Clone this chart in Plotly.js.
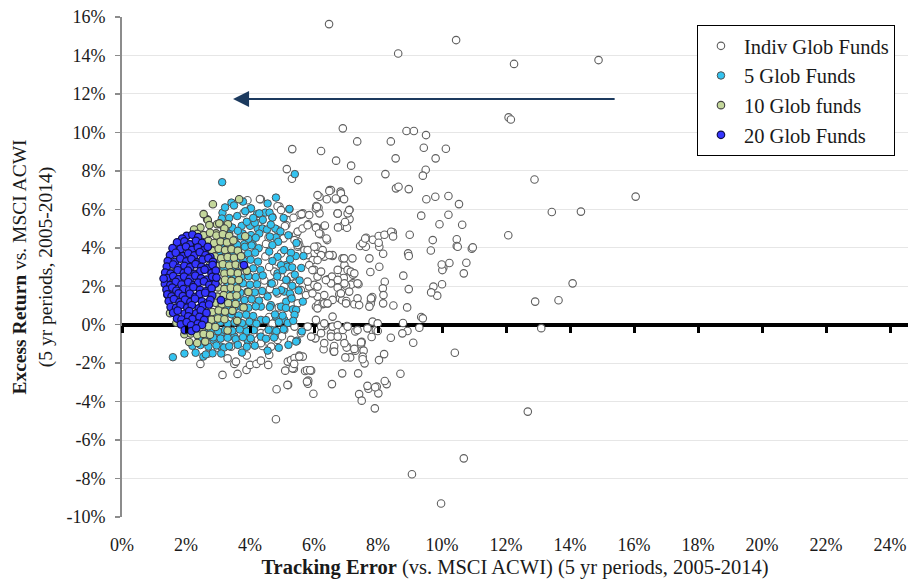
<!DOCTYPE html>
<html>
<head>
<meta charset="utf-8">
<script src="https://cdn.plot.ly/plotly-3.0.1.min.js"></script>
<style>html,body{margin:0;padding:0;background:#fff;}#chart{width:911px;height:584px;}</style>
</head>
<body>
<div id="chart"></div>
<script>
// Series names
const seriesNames = ["Indiv Glob Funds", "5 Glob Funds", "10 Glob funds", "20 Glob Funds"];

// Tick values (percent)
const xTicks = [0, 2, 4, 6, 8, 10, 12, 14, 16, 18, 20, 22, 24];
const yTicks = [-10, -8, -6, -4, -2, 0, 2, 4, 6, 8, 10, 12, 14, 16];
const xTickText = ["0%", "2%", "4%", "6%", "8%", "10%", "12%", "14%", "16%", "18%", "20%", "22%", "24%"];
const yTickText = ["-10%", "-8%", "-6%", "-4%", "-2%", "0%", "2%", "4%", "6%", "8%", "10%", "12%", "14%", "16%"];

// [tracking error %, excess return %] pairs
const indivFunds = [
[6.47,15.63],[8.63,14.10],[10.44,14.80],[12.25,13.56],[14.89,13.76],[12.08,10.78],[12.15,10.67],[16.05,6.66],[13.43,5.86],[14.34,5.88],[12.89,7.55],[12.07,4.65],[14.08,2.15],[12.91,1.20],[13.64,1.27],[13.10,-0.18],[12.68,-4.52],[10.40,-1.46],[10.68,-6.95],[9.06,-7.78],[9.97,-9.30],
[6.90,10.21],[8.89,10.07],[9.12,10.07],[9.50,9.86],[5.32,9.13],[6.22,9.03],[7.35,9.53],[8.40,9.53],[9.43,9.20],[10.12,9.15],[8.55,8.65],[9.80,8.65],[6.69,8.53],[7.16,8.27],[5.15,8.09],[5.31,7.59],[9.49,8.06],[9.40,7.75],[8.23,7.83],[7.38,7.52],[8.56,7.09],[8.64,7.17],[8.96,7.05],[6.49,7.00],[6.83,6.92],[6.83,6.62],[6.17,6.65],[6.69,6.52],[9.51,6.52],[9.79,6.65],[10.20,6.69],[10.53,6.27],[6.07,6.17],[6.14,6.08],[7.11,5.98],[6.74,5.79],[6.17,5.79],[5.62,5.75],[9.35,5.67],[10.20,5.72],[5.82,5.22],[6.07,5.06],[6.32,5.13],[6.91,5.15],[7.03,5.04],[6.75,5.06],[7.11,5.49],[6.97,5.34],[9.92,5.22],[10.63,5.20],[5.05,4.49],[5.44,4.68],[5.51,4.31],[5.49,4.05],[6.20,4.71],[6.41,4.40],[6.08,4.05],[6.12,3.88],
[7.52,4.18],[7.44,4.09],[7.63,4.52],[7.84,4.42],[8.02,4.61],[8.20,4.68],[8.46,4.80],[8.41,4.83],[8.47,4.59],[8.04,4.05],[8.02,4.26],[8.16,3.69],[8.99,4.68],[8.94,3.71],[8.96,3.57],[7.73,3.45],[9.71,4.40],[9.65,3.86],[10.46,4.44],[10.46,4.09],[10.49,4.05],[10.93,3.95],[10.96,4.02],[10.76,3.22],[10.23,3.21],[10.04,2.96],[10.01,2.84],[10.68,2.67],[10.00,2.10],[9.73,1.98],[9.85,1.51],[9.66,1.68],[9.99,3.13],[8.79,2.55],[8.96,1.85],[8.91,0.90],[8.21,2.23],[8.15,1.89],[8.17,1.54],[8.16,1.11],[8.48,1.00],[7.78,1.23],[7.80,1.33],[7.77,1.09],[7.82,1.44],[7.76,2.74],[7.39,2.10],
[7.22,2.60],[7.01,2.77],[6.92,2.76],[7.21,2.15],[7.15,2.08],[7.00,2.03],[6.93,2.43],[6.74,1.92],[6.79,1.58],[6.81,1.37],[6.88,1.27],[7.01,1.23],[7.26,1.06],[6.43,2.36],[6.56,2.50],[6.58,3.57],[6.32,3.66],[6.06,0.93],[6.14,1.06],[6.27,1.07],[6.43,1.11],
[7.03,-0.07],[7.83,0.16],[8.78,0.09],[9.35,0.40],[9.40,0.33],[9.29,-0.16],[8.92,-0.33],[8.76,-0.45],[9.10,-0.94],[8.40,-0.68],[7.84,-0.33],[7.93,-0.28],[7.80,-0.64],[7.99,-0.33],[7.29,-0.35],[7.49,-0.89],[7.47,-1.02],[7.55,-1.35],[7.52,-1.66],[7.58,-2.01],[6.90,-0.64],[7.04,-1.15],[7.13,-1.70],[6.98,-1.70],[7.29,-1.35],[8.19,-1.53],[8.03,-1.84],[6.32,-0.05],[6.22,-0.10],[6.53,-0.45],[6.04,-0.69],[6.30,-1.28],[6.62,-1.23],[6.62,-1.40],[6.88,-2.53],[6.56,-3.09],[5.82,-2.91],[5.81,-3.07],[5.91,-2.39],[5.72,-2.41],[5.98,-3.59],[5.19,-3.14],[5.37,-2.29],[5.10,-2.39],[5.18,-1.92],[5.28,-1.84],[5.39,-1.73],[5.54,-1.61],[5.65,-1.66],[7.41,-3.61],[7.49,-3.95],[7.70,-3.33],[7.96,-3.22],[8.01,-3.57],[8.27,-3.09],[8.21,-2.93],[7.90,-4.35],[8.70,-2.55],
[2.45,-2.04],[3.14,-2.61],[3.61,-2.56],[3.89,-2.35],[3.51,-2.04],[3.56,-1.92],[3.30,-1.75],[4.00,-2.09],[4.20,-2.04],[4.34,-1.87],[4.57,-2.09],[4.60,-1.57],[4.39,-1.11],[4.83,-3.36],[5.17,-3.13],[4.81,-4.92],[5.33,-2.27],[5.38,-2.04],[5.54,-1.66],[5.78,-2.37],[5.88,-2.37],[5.78,-2.96],[6.04,-0.71],[6.61,-1.31],[6.63,-1.11],[7.02,-1.19],[7.26,-1.26],[7.47,-0.92],[7.52,-1.80],[7.38,-2.53],[7.67,-3.18],[7.91,-3.25],
[5.80,-0.10],[6.06,0.25],[6.32,0.07],[6.58,-0.10],[6.90,-0.27],[6.22,-0.44],[6.53,-0.62],[5.39,-0.10],[5.07,-0.27],[4.66,-0.10],[4.34,-0.44],[4.13,-0.10],[3.87,-0.36],[3.51,-0.62],[3.41,-1.14],[3.72,-0.96],[4.03,-0.79],[4.34,-0.96],[4.66,-1.14],[4.86,-0.79],[5.28,-0.79],[5.59,-0.44],[5.91,-0.62],[6.32,-0.96],[6.63,-1.40],[6.95,-0.96],[6.74,-0.62],
[4.34,6.52],[4.92,6.14],[5.23,6.00],[5.65,5.79],[6.11,6.74],[6.53,7.00],[6.84,6.83],[6.40,6.52],[6.74,5.79],[7.05,5.79],[6.06,6.05],[5.85,5.70],[5.54,5.70],[5.18,5.44],[5.13,5.18],[4.86,4.92],[4.24,5.27],[5.49,4.84],[5.39,4.40],[5.54,4.14],[5.70,3.88],[5.80,3.62],[5.96,3.36],
[6.11,4.06],[6.27,3.88],[6.32,3.54],[6.58,3.62],[6.89,3.45],[6.95,3.10],[6.74,2.85],[7.05,2.85],[6.01,2.85],[6.11,2.50],[5.85,1.98],[6.01,2.07],[6.11,1.46],[6.32,1.11],[6.58,1.29],[6.84,1.63],[7.00,1.11],[6.95,2.15],[6.74,2.33],[6.53,2.15],
[4.97,3.71],[4.86,3.27],[5.07,3.01],[4.76,2.76],[4.97,2.50],[5.28,2.50],[5.43,2.15],[5.07,1.98],[4.86,1.63],[5.28,1.46],[5.59,1.80],[5.75,1.54],[5.49,1.11],[5.38,0.76],[5.49,4.14],[5.80,3.88],[6.01,4.05],[6.22,3.62],[6.48,3.62],[6.11,3.36],[5.85,3.10],[5.95,2.84],[6.22,2.76],[6.37,2.32],[6.11,1.98],[5.80,2.24],[5.95,1.63],[6.32,1.54],[6.42,1.11],[6.11,0.85],[6.58,0.42],[6.74,-0.02],[7.05,-0.10],[7.36,-0.28],[7.67,-0.19],[7.99,0.07],[6.94,3.45],[7.20,3.45],[7.15,2.76],[7.26,2.67],[7.36,2.15],[7.10,1.72],[7.36,1.37],[7.78,1.37],[7.73,0.94],[7.41,1.02],[8.04,3.01],[7.62,4.05],[7.52,4.23],
[3.92,6.47],[4.31,6.53],[4.86,6.16],[4.97,5.96],[5.36,5.56],[5.61,5.75],[5.09,5.12],[5.64,5.00],[5.80,5.17],[6.06,5.04],[6.34,5.16],[6.16,4.74],[6.39,4.48],[6.09,6.13],[6.48,6.95],[6.68,6.56],[6.94,6.53],[6.74,5.78],[7.10,5.96],[7.60,4.48],
[3.00,-1.20],[3.50,0.50],[4.20,1.20],[4.60,3.00],[4.50,4.20],[3.80,5.80],[4.10,-0.50],[4.60,0.40],[4.90,0.90],[5.00,-0.60],[2.70,-1.50],[3.90,-1.60],[4.70,5.60],
[4.45,2.30],[4.62,1.85],[4.48,3.55],[4.70,0.05],[4.52,-0.40],[4.40,1.60],[4.75,2.20],[4.58,4.55]
];

const fiveFunds = [
[5.40,7.83],[3.13,7.41],[4.81,6.61],[5.23,6.02],[3.42,6.35],[3.14,5.82],[4.01,6.04],[4.22,5.75],[4.48,5.83],[4.61,5.83],[4.70,5.57],[4.79,5.00],[4.81,4.54],[4.88,4.31],[3.74,5.14],[4.00,5.14],[4.24,5.00],[4.39,5.00],[4.53,4.95],[4.29,5.79],[4.03,6.05],[5.43,3.57],[5.67,3.57],[5.15,2.32],[5.34,0.80],[5.47,-0.83],[2.54,-1.66],[2.83,-1.49],[3.09,-1.14],[3.19,-1.19],[1.59,-1.69],
[3.35,4.74],[3.42,4.40],[3.25,4.40],[4.08,4.19],[3.82,4.19],[3.56,4.22],[3.77,4.74],[4.03,4.66],[4.29,4.74],[3.12,5.52],[3.07,5.21],
[5.07,3.88],[5.13,3.10],[5.13,2.33],[5.07,1.72],[5.13,1.20],[5.44,0.77],[5.39,0.51],[5.07,0.25],[5.44,-0.88],[4.66,-0.27],[4.34,0.25],
[4.86,3.53],[4.97,3.10],[4.86,2.67],[5.17,3.01],[4.65,2.15],[4.97,1.80],[4.55,1.46],[4.34,0.94],[4.65,1.02],[4.97,0.94],[4.81,0.42],[4.50,0.24],[4.13,0.07],[3.82,-0.02],[2.86,-0.79],[3.09,-0.45],[3.51,-0.62],[3.92,-0.79],[4.34,-0.62],
[3.05,4.48],[3.28,4.55],[3.50,4.42],[3.71,4.60],[3.95,4.47],[4.18,4.52],[4.62,4.58],
[3.12,4.10],[3.36,4.02],[3.60,4.15],[3.84,4.05],[4.05,4.12],[4.27,3.98],[4.70,4.14],
[3.02,3.72],[3.25,3.66],[3.48,3.78],[3.70,3.62],[3.94,3.70],[4.16,3.75],[4.60,3.80],[5.28,3.74],
[3.10,3.30],[3.33,3.35],[3.57,3.26],[3.80,3.33],[4.02,3.38],[4.25,3.28],[4.70,3.31],[5.25,3.40],
[3.18,2.92],[3.42,2.86],[3.65,2.95],[3.88,2.88],[4.10,2.93],[4.33,2.85],[5.02,2.84],[5.32,2.98],
[3.28,2.50],[3.50,2.55],[3.73,2.46],[3.95,2.52],[4.18,2.48],[4.40,2.56],[4.85,2.51],[5.40,2.60],
[3.30,2.12],[3.55,2.06],[3.78,2.15],[4.00,2.08],[4.22,2.10],[4.68,2.14],[5.32,2.02],
[3.25,1.70],[3.48,1.74],[3.70,1.66],[3.92,1.72],[4.15,1.68],[4.38,1.75],[4.82,1.71],[5.25,1.62],[5.52,1.78],
[3.15,1.30],[3.38,1.26],[3.60,1.34],[3.83,1.28],[4.05,1.32],[4.28,1.25],[5.30,1.36],
[3.05,0.90],[3.28,0.94],[3.50,0.86],[3.73,0.92],[3.95,0.88],[4.18,0.95],[4.62,0.91],[5.12,0.87],
[2.98,0.50],[3.20,0.46],[3.42,0.54],[3.65,0.48],[3.88,0.52],[4.10,0.45],[4.78,0.53],[5.02,0.47],
[2.85,0.10],[3.08,0.14],[3.30,0.06],[3.52,0.12],[3.75,0.08],[3.98,0.15],[4.20,0.05],[4.90,0.13],[5.18,0.09],
[2.55,-0.30],[2.78,-0.26],[3.00,-0.34],[3.22,-0.28],[3.45,-0.32],[3.68,-0.25],[3.90,-0.35],[4.12,-0.29],[4.58,-0.27],[4.82,-0.33],[5.05,-0.24],
[2.40,-0.70],[2.62,-0.74],[2.85,-0.66],[3.08,-0.72],[3.30,-0.68],[3.55,-0.75],[3.78,-0.65],[4.02,-0.71],[4.50,-0.73],[4.75,-0.67],
[2.20,-1.10],[2.45,-1.06],[2.70,-1.14],[2.95,-1.08],[3.35,-1.12],[3.62,-1.05],[3.90,-1.15],[4.15,-1.09],
[1.95,-1.50],[2.30,-1.46],[2.62,-1.55],
[3.20,4.95],[3.45,5.05],[3.62,4.88],[3.90,5.35],[4.15,5.30],[4.40,5.45],[4.65,5.20],[4.95,4.85],[3.35,5.55],[3.60,5.65],[3.85,5.90],[4.10,5.55],[3.22,6.10],[3.50,6.20],[3.78,6.40],[4.55,6.30],[5.05,5.55],[5.20,4.65],[5.45,4.25],[5.60,2.95],[5.55,2.30],[5.65,1.20],[5.35,0.20],[5.62,-0.35],[5.20,-1.05],[4.90,-1.20],[4.55,-1.35],[3.75,-1.45],[3.10,-1.50]
];

const tenFunds = [
[2.84,6.26],[3.66,6.52],[2.66,5.48],[2.97,5.22],[3.31,5.22],[2.68,5.44],[3.04,5.27],[2.73,5.18],[2.94,4.75],[2.45,5.05],[2.25,4.95],[3.20,5.00],[2.55,5.75],
[2.35,4.72],[2.55,4.66],[2.75,4.78],[2.95,4.64],[3.15,4.70],[3.35,4.62],
[2.50,4.30],[2.70,4.36],[2.88,4.25],[3.08,4.32],[3.28,4.28],[3.48,4.38],
[2.62,3.90],[2.82,3.84],[3.02,3.95],[3.22,3.88],[3.42,3.92],[3.62,3.85],
[2.70,3.50],[2.90,3.55],[3.10,3.46],[3.30,3.52],[3.50,3.48],[3.72,3.56],
[2.75,3.10],[2.95,3.06],[3.15,3.14],[3.35,3.08],[3.55,3.12],[3.75,3.05],
[2.80,2.70],[3.00,2.74],[3.20,2.66],[3.40,2.72],[3.62,2.68],
[2.82,2.30],[3.02,2.26],[3.22,2.34],[3.42,2.28],[3.65,2.32],
[2.80,1.90],[3.00,1.94],[3.20,1.86],[3.40,1.92],[3.60,1.88],
[2.78,1.50],[2.98,1.46],[3.18,1.54],[3.38,1.48],[3.58,1.52],
[2.72,1.10],[2.92,1.14],[3.12,1.06],[3.32,1.12],[3.55,1.08],
[2.62,0.70],[2.82,0.66],[3.02,0.74],[3.22,0.68],[3.45,0.72],
[2.40,0.30],[2.60,0.34],[2.80,0.26],[3.00,0.32],[3.20,0.28],
[2.10,-0.10],[2.30,-0.06],[2.50,-0.14],[2.70,-0.08],[2.92,-0.12],
[1.95,-0.50],[2.15,-0.46],[2.35,-0.54],[2.55,-0.48],[2.75,-0.52],
[2.10,-0.90],[2.35,-0.95],[2.60,-0.88],
[1.48,1.28],[1.42,1.54],[1.53,3.02],[1.63,3.71],[1.45,2.20],[1.50,0.60],[1.75,4.20],[1.70,0.10],
[3.85,4.60],[3.90,2.80],[3.95,1.70],[3.80,0.90],[3.60,0.20],[3.30,-0.30]
];

const twentyFunds = [
[2.02,4.62],[2.20,4.68],[2.38,4.55],[1.88,4.48],
[1.72,4.28],[1.95,4.33],[2.12,4.18],[2.31,4.36],[2.50,4.25],
[1.58,3.98],[1.83,3.94],[2.00,4.06],[2.19,3.89],[2.37,4.02],[2.55,3.86],[2.68,4.05],
[1.50,3.62],[1.68,3.74],[1.91,3.57],[2.07,3.71],[2.26,3.60],[2.43,3.77],[2.61,3.61],[2.76,3.52],
[1.43,3.31],[1.65,3.26],[1.82,3.44],[2.01,3.29],[2.17,3.41],[2.35,3.24],[2.52,3.38],[2.70,3.46],[2.84,3.27],
[1.40,3.02],[1.60,3.13],[1.77,2.96],[1.95,3.06],[2.13,2.99],[2.30,3.15],[2.48,3.01],[2.66,2.93],[2.83,3.11],
[1.35,2.71],[1.52,2.66],[1.74,2.83],[1.93,2.69],[2.06,2.81],[2.27,2.64],[2.45,2.79],[2.58,2.86],[2.80,2.68],[2.93,2.81],
[1.41,2.42],[1.60,2.53],[1.77,2.37],[1.94,2.50],[2.12,2.39],[2.29,2.55],[2.47,2.41],[2.65,2.34],[2.82,2.49],
[1.34,2.12],[1.51,2.06],[1.68,2.23],[1.86,2.09],[2.07,2.21],[2.24,2.05],[2.38,2.19],[2.56,2.25],[2.73,2.07],[2.92,2.14],
[1.39,1.82],[1.57,1.93],[1.70,1.77],[1.92,1.85],[2.10,1.79],[2.23,1.95],[2.44,1.81],[2.62,1.74],[2.80,1.89],
[1.42,1.58],[1.55,1.47],[1.77,1.63],[1.90,1.49],[2.12,1.61],[2.29,1.45],[2.43,1.59],[2.60,1.66],[2.82,1.52],
[1.46,1.22],[1.62,1.33],[1.80,1.17],[1.97,1.30],[2.14,1.19],[2.28,1.35],[2.50,1.21],[2.67,1.14],[2.76,1.29],
[1.52,0.92],[1.69,0.87],[1.83,1.03],[2.04,0.89],[2.18,1.01],[2.40,0.85],[2.53,0.99],[2.72,1.05],
[1.60,0.62],[1.74,0.73],[1.96,0.57],[2.10,0.71],[2.32,0.59],[2.46,0.75],[2.64,0.61],
[1.72,0.32],[1.86,0.27],[2.07,0.43],[2.20,0.29],[2.42,0.41],[2.57,0.25],
[1.84,0.02],[2.02,0.13],[2.16,-0.03],[2.37,0.06],[2.50,-0.01],
[1.96,-0.28],[2.17,-0.33],[2.32,-0.19],
[3.81,3.10],[3.09,1.28],[1.30,2.40],[2.95,2.45]
];

// Arrow (annotation) endpoints in data units
const arrowFrom = [15.44, 11.74];
const arrowTo = [3.47, 11.74];

const FONT = "'Liberation Serif', 'Times New Roman', serif";

function mk(pts, name, fill, line, lw) {
  return {
    type: "scatter", mode: "markers", name: name, legendgroup: name,
    x: pts.map(p => p[0]), y: pts.map(p => p[1]),
    marker: {size: 7.5, color: fill, line: {color: line, width: lw}},
    hoverinfo: "x+y"
  };
}

const traces = [
  mk(indivFunds, seriesNames[0], "#ffffff", "#5f5f5f", 1.1),
  mk(fiveFunds, seriesNames[1], "#33c3f0", "#505050", 1),
  mk(tenFunds, seriesNames[2], "#c4d79b", "#404040", 1.1),
  mk(twentyFunds, seriesNames[3], "#3535ff", "#101048", 1.2)
];

const layout = {
  width: 911, height: 584,
  margin: {l: 122, r: 3, t: 17, b: 67, pad: 0},
  paper_bgcolor: "#fff", plot_bgcolor: "#fff",
  font: {family: FONT, size: 18, color: "#1a1a1a"},
  showlegend: true,
  legend: {
    x: 0.7315, y: 0.984, xanchor: "left", yanchor: "top",
    bgcolor: "#fff", bordercolor: "#000", borderwidth: 1,
    font: {family: FONT, size: 20.5, color: "#1a1a1a"},
    tracegroupgap: 4, traceorder: "normal", itemwidth: 36
  },
  xaxis: {
    range: [0, 24.56], tickmode: "array", tickvals: xTicks, ticktext: xTickText,
    showgrid: false, zeroline: false, showline: false,
    ticks: "", ticklabelstandoff: 15,
    tickfont: {family: FONT, size: 18, color: "#1a1a1a"},
    title: {text: "<b>Tracking Error</b> (vs. MSCI ACWI) (5 yr periods, 2005-2014)", font: {family: FONT, size: 20.5, color: "#1a1a1a"}, standoff: 5},
    fixedrange: true
  },
  xaxis2: {
    overlaying: "x", matches: "x", anchor: "free", position: 10/26, side: "bottom",
    tickmode: "array", tickvals: xTicks, showticklabels: false, showgrid: false, zeroline: false, showline: false,
    ticks: "outside", ticklen: 7, tickwidth: 3, tickcolor: "#000"
  },
  yaxis: {
    range: [-10, 16], tickmode: "array", tickvals: yTicks, ticktext: yTickText,
    showgrid: true, gridcolor: "#e6e6e6", gridwidth: 1,
    showline: true, linecolor: "#8c8c8c", linewidth: 2,
    ticks: "outside", ticklen: 5, tickcolor: "#8c8c8c", tickwidth: 1.5,
    ticklabelstandoff: 6,
    zeroline: true, zerolinecolor: "#000", zerolinewidth: 4,
    tickfont: {family: FONT, size: 18, color: "#1a1a1a"},
    title: {text: "<b>Excess Return</b> vs. MSCI ACWI<br>(5 yr periods, 2005-2014)", font: {family: FONT, size: 19.5, color: "#1a1a1a"}, standoff: 9},
    fixedrange: true
  },
  annotations: [{
    x: arrowTo[0], y: arrowTo[1], ax: arrowFrom[0], ay: arrowFrom[1],
    xref: "x", yref: "y", axref: "x", ayref: "y",
    showarrow: true, arrowhead: 2, arrowsize: 1.6, arrowwidth: 2,
    arrowcolor: "#1c3a5e", text: ""
  }]
};

// empty helper trace so the overlay axis for the zero-line ticks is drawn
traces.push({type: "scatter", mode: "markers", x: [], y: [], xaxis: "x2", yaxis: "y", showlegend: false, hoverinfo: "skip"});

Plotly.newPlot("chart", traces, layout, {displayModeBar: false, staticPlot: true});
</script>
</body>
</html>
